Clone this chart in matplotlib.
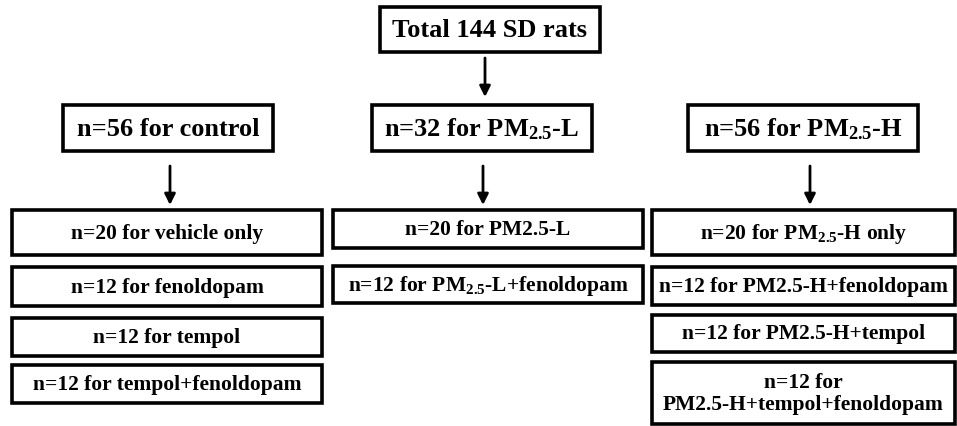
import matplotlib.pyplot as plt
from matplotlib.patches import Rectangle

plt.rcParams['font.family'] = ['Liberation Serif', 'DejaVu Serif']
plt.rcParams['font.weight'] = 'bold'

PM = r"PM$\mathregular{_{2.5}}$"

top_label = "Total 144 SD rats"
group_labels = ["n=56 for control", f"n=32 for {PM}-L", f"n=56 for {PM}-H"]
control_labels = ["n=20 for vehicle only", "n=12 for fenoldopam",
                  "n=12 for tempol", "n=12 for tempol+fenoldopam"]
low_labels = ["n=20 for PM2.5-L", f"n=12 for {PM}-L+fenoldopam"]
high_labels = [f"n=20 for {PM}-H only", "n=12 for PM2.5-H+fenoldopam",
               "n=12 for PM2.5-H+tempol", "n=12 for\nPM2.5-H+tempol+fenoldopam"]

# layout in pixel coordinates (x0, x1, y0, y1)
top_box = (380, 600, 7, 52)
group_boxes = [(63, 273, 105, 151), (372, 592, 105, 151), (688, 918, 105, 151)]
control_boxes = [(12, 322, 210, 255), (12, 322, 267, 306), (12, 322, 318, 356), (12, 322, 365, 403)]
low_boxes = [(333, 643, 210, 248), (333, 643, 266, 303)]
high_boxes = [(652, 955, 210, 255), (652, 955, 267, 305), (652, 955, 315, 352), (652, 955, 362, 424)]
arrows = [(485, 58, 97), (170, 166, 205), (483, 166, 205), (810, 166, 205)]

fig = plt.figure(figsize=(9.57, 4.26), dpi=100)
ax = fig.add_axes([0, 0, 1, 1])
ax.set_xlim(0, 957)
ax.set_ylim(426, 0)
ax.axis('off')


def draw_box(box, label, size):
    x0, x1, y0, y1 = box
    ax.add_patch(Rectangle((x0, y0), x1 - x0, y1 - y0, fill=False,
                           edgecolor='black', linewidth=2.6))
    ax.text((x0 + x1) / 2, (y0 + y1) / 2 + 1, label, ha='center', va='center',
            fontsize=size, fontweight='bold', linespacing=1.1)


draw_box(top_box, top_label, 19)
for b, lab in zip(group_boxes, group_labels):
    draw_box(b, lab, 19)
for b, lab in zip(control_boxes, control_labels):
    draw_box(b, lab, 15.5)
for b, lab in zip(low_boxes, low_labels):
    draw_box(b, lab, 15.5)
for b, lab in zip(high_boxes, high_labels):
    draw_box(b, lab, 15.5)

for x, y0, y1 in arrows:
    ax.annotate("", xy=(x, y1), xytext=(x, y0),
                arrowprops=dict(arrowstyle='-|>', color='black', lw=2,
                                mutation_scale=16, shrinkA=0, shrinkB=0))

fig.savefig("out.png", dpi=100)
